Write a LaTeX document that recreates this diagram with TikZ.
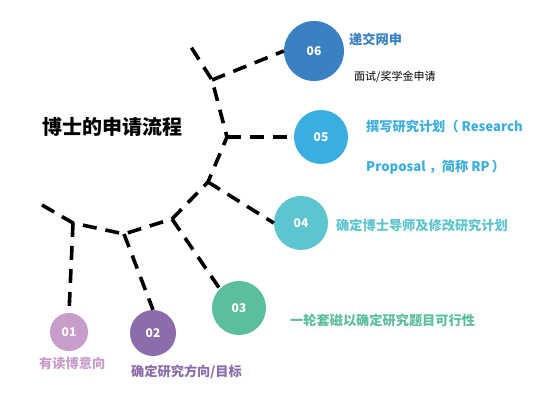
\documentclass[tikz,border=0pt]{standalone}
\usepackage{fontspec}
\setmainfont{Noto Sans CJK SC}
\begin{document}
\begin{tikzpicture}[x=1pt,y=-1pt,
  trunk/.style={line width=3.6pt,dash pattern=on 14pt off 9pt,black},
  num/.style={circle,inner sep=0pt,text=white,font=\bfseries\fontsize{12}{14}\selectfont},
  lbl/.style={anchor=west,inner sep=0pt,font=\bfseries\fontsize{13.2}{15}\selectfont}]
\definecolor{cA}{HTML}{C89CCB}
\definecolor{cB}{HTML}{8B6DAC}
\definecolor{cC}{HTML}{5BBF9E}
\definecolor{cD}{HTML}{5CC5D0}
\definecolor{cE}{HTML}{3BAEE1}
\definecolor{cF}{HTML}{3A81C3}
\useasboundingbox[fill=white] (0,0) rectangle (543,406);
% circles
\node[num,fill=cA,minimum size=38pt] (c1) at (69,332) {01};
\node[num,fill=cB,minimum size=46pt] (c2) at (153,333) {02};
\node[num,fill=cC,minimum size=54pt] (c3) at (239,308) {03};
\node[num,fill=cD,minimum size=54pt] (c4) at (301,223) {04};
\node[num,fill=cE,minimum size=54pt] (c5) at (321,137) {05};
\node[num,fill=cF,minimum size=60pt] (c6) at (314,51) {06};
% junctions
\coordinate (s) at (42,205);
\coordinate (j1) at (73,223);
\coordinate (j2) at (124,234);
\coordinate (j3) at (172,219);
\coordinate (j4) at (208,182);
\coordinate (j5) at (227,137);
\coordinate (j6) at (212,80);
\coordinate (e) at (191,47);
% trunk
\draw[trunk] (s) -- (j1) -- (j2) -- (j3) -- (j4) -- (j5) -- (j6) -- (e);
% branches
\draw[trunk] (j1) -- (c1.north);
\draw[trunk] (j2) -- (c2.north);
\draw[trunk] (j3) -- (c3.north west);
\draw[trunk] (j4) -- (c4.west);
\draw[trunk] (j5) -- (c5.west);
\draw[trunk] (j6) -- (c6.west);
% title
\node[anchor=west,inner sep=0pt,font=\bfseries\fontsize{20}{24}\selectfont] (title) at (42,127) {博士的申请流程};
% labels
\node[lbl,text=cF] (t6) at (349,39) {递交网申};
\node[anchor=west,inner sep=0pt,font=\fontsize{11}{13}\selectfont] (t6b) at (354,77) {面试/奖学金申请};
\node[lbl,text=cE] (t5) at (366,126) {撰写研究计划（\hspace{3pt}Research};
\node[lbl,text=cE] (t5b) at (366,167) {Proposal\hspace{3pt}，简称 RP\hspace{2pt}）};
\node[lbl,text=cD] (t4) at (336,225) {确定博士导师及修改研究计划};
\node[lbl,text=cC] (t3) at (290,320) {一轮套磁以确定研究题目可行性};
\node[lbl,text=cA] (t1) at (39,363) {有读博意向};
\node[lbl,text=cB] (t2) at (131,372) {确定研究方向/目标};
\end{tikzpicture}
\end{document}
